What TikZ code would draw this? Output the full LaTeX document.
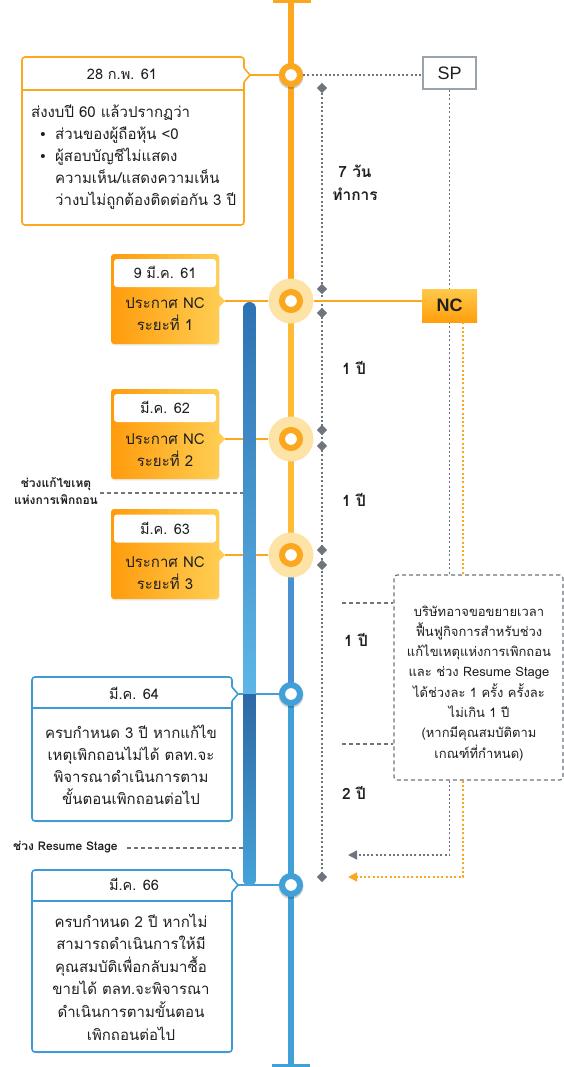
\documentclass[tikz,border=0pt]{standalone}
\usepackage{fontspec}
\setmainfont{Liberation Sans}
\newfontfamily\thaifont[Script=Thai]{Loma}
\usetikzlibrary{arrows.meta,shadows,calc,shapes.geometric}
\definecolor{org}{HTML}{FBA71F}
\definecolor{orgl}{HTML}{FDBB38}
\definecolor{haloc}{HTML}{FEE3A6}
\definecolor{blu}{HTML}{41A0D8}
\definecolor{blud}{HTML}{4890CF}
\definecolor{bcard}{HTML}{3E9BD5}
\definecolor{gry}{HTML}{6E757C}
\definecolor{spc}{HTML}{9AA2AA}
\definecolor{txtc}{HTML}{1F1F1F}
\definecolor{oL}{HTML}{FF9C0C}
\definecolor{oR}{HTML}{FFCD52}
\definecolor{ncT}{HTML}{FFC94C}
\definecolor{ncB}{HTML}{FF9F0C}
\definecolor{bbA}{HTML}{2E72B3}
\definecolor{bbB}{HTML}{5DB6E7}
\definecolor{bbC}{HTML}{2D69A4}
\definecolor{bbD}{HTML}{45A4DA}
\newcommand\notchw[2]{%
  \fill[white] ($(#1)+(-1.5,-7)$) -- ($(#1)+(0,-7)$) -- ($(#1)+(6,0)$) -- ($(#1)+(0,7)$) -- ($(#1)+(-1.5,7)$) -- cycle;
  \draw[#2, line width=1.6pt, line join=round] ($(#1)+(0,-7)$) -- ($(#1)+(6,0)$) -- ($(#1)+(0,7)$);}
\newcommand\notcho[1]{%
  \fill[oR] ($(#1)+(-1,-7)$) -- ($(#1)+(6,0)$) -- ($(#1)+(-1,7)$) -- cycle;}
\newcommand\clines[6]{%
  \foreach \t [count=\i] in {#6} {\pgfmathsetmacro\yy{#4+#5*(\i-1)}\node[#1, anchor=base] (#2\i) at (#3,\yy) {\t};}}
\begin{document}
\begin{tikzpicture}[x=1pt,y=-1pt,
  ring/.style={circle, minimum size=18pt, inner sep=0pt, line width=6pt, fill=white, draw=#1},
  halo/.style={circle, minimum size=45pt, inner sep=0pt, fill=haloc},
  wcard/.style={rectangle, draw=#1, line width=1.6pt, fill=white, rounded corners=3pt, inner sep=0pt},
  ocard/.style={rectangle, rounded corners=3pt, left color=oL, right color=oR, minimum width=108pt, minimum height=90pt, inner sep=0pt, drop shadow={opacity=0.15, shadow xshift=0.5pt, shadow yshift=-1.5pt}},
  hbox/.style={rectangle, fill=white, rounded corners=3pt, minimum width=102pt, minimum height=28pt, inner sep=0pt},
  txt/.style={inner sep=0pt, text=txtc, font=\thaifont\fontsize{15}{17}\selectfont},
  htxt/.style={inner sep=0pt, text=txtc, font=\thaifont\fontsize{14.5}{17}\selectfont},
  ntxt/.style={inner sep=0pt, text=txtc, font=\thaifont\fontsize{13}{15}\selectfont},
  lbl/.style={inner sep=0pt, text=txtc, font=\thaifont\bfseries\fontsize{15.5}{17}\selectfont},
  slbl/.style={inner sep=0pt, text=txtc, font=\thaifont\bfseries\fontsize{12}{14}\selectfont},
  dia/.style={diamond, fill=gry, minimum width=10pt, minimum height=10pt, inner sep=0pt},
  dots/.style={draw=gry, line width=1.6pt, dash pattern=on 2pt off 2.3pt},
  odots/.style={draw=org, line width=1.6pt, dash pattern=on 2pt off 2.3pt},
  dsh/.style={draw=gry, line width=1.2pt, dash pattern=on 4pt off 3pt},
  conn/.style={line width=2pt},
  tl/.style={line width=5.5pt},
  tipa/.style={-{Triangle[length=9pt,width=9pt]}},
]
\useasboundingbox (0,0) rectangle (564,1067);

% ---------- timeline ----------
\coordinate (top) at (291,2);
\coordinate (bot) at (291,1065);
\coordinate (E1) at (291,75);
\coordinate (E2) at (291,301);
\coordinate (E3) at (291,439);
\coordinate (E4) at (291,555);
\coordinate (E5) at (291,694);
\coordinate (E6) at (291,885);
\draw[tl, org] (top) -- (E2);
\draw[tl, orgl] (E2) -- (E4);
\draw[tl, blud] (E4) -- (E5);
\draw[tl, blu] (E5) -- (bot);
\draw[org, line width=3pt] (273,2) -- (311,2);
\draw[blu, line width=3pt] (272,1065) -- (310,1065);

% ---------- event markers ----------
\fill[black, opacity=0.18] ($(E1)+(0,1.5)$) circle (12.5);
\node[ring=org] (e1) at (E1) {};
\node[halo] (h2) at (E2) {};
\node[ring=org] (e2) at (E2) {};
\node[halo] (h3) at (E3) {};
\node[ring=org] (e3) at (E3) {};
\node[halo] (h4) at (E4) {};
\node[ring=org] (e4) at (E4) {};
\fill[black, opacity=0.18] ($(E5)+(0,1.5)$) circle (12.5);
\node[ring=blu] (e5) at (E5) {};
\fill[black, opacity=0.18] ($(E6)+(0,1.5)$) circle (12.5);
\node[ring=blu] (e6) at (E6) {};

% ---------- SP / NC ----------
\node[draw=spc, line width=1.8pt, fill=white, minimum width=53pt, minimum height=32pt, inner sep=0pt, font=\fontsize{18}{18}\selectfont, text=txtc] (sp) at (449.5,73) {SP};
\draw[dots] (e1.east) -- (e1.east -| sp.west);

% note box
\node[draw=gry, line width=1.2pt, dash pattern=on 4pt off 3pt, rounded corners=3pt, fill=white, minimum width=169pt, minimum height=205pt, inner sep=0pt] (note) at (478.5,677.5) {};
\clines{ntxt}{nt}{479}{616}{20.3}{บริษัทอาจขอขยายเวลา,ฟื้นฟูกิจการสำหรับช่วง,แก้ไขเหตุแห่งการเพิกถอน,และ ช่วง Resume Stage,ได้ช่วงละ 1 ครั้ง ครั้งละ,ไม่เกิน 1 ปี,{(หากมีคุณสมบัติตาม},{เกณฑ์ที่กำหนด)}}

\coordinate (a1) at (348,855);
\coordinate (a2) at (348,877);
\coordinate (ox) at (463,0);
\draw[dots] (sp.south) -- (sp.south |- note.north);
\draw[dots, tipa] (sp.south |- note.south) |- (a1);

\node[top color=ncT, bottom color=ncB, minimum width=55pt, minimum height=33pt, inner sep=0pt, font=\bfseries\fontsize{18}{18}\selectfont, text=txtc] (nc) at (449.5,305.5) {NC};
\draw[odots] (nc.south -| ox) -- (note.north -| ox);
\draw[odots, tipa, draw=org, color=org] (note.south -| ox) |- (a2);

% ---------- durations ----------
\node[dia] (d1) at (322,88) {};
\node[dia] (d2) at (322,289) {};
\node[dia] (d3) at (322,313) {};
\node[dia] (d4) at (322,430) {};
\node[dia] (d5) at (322,446) {};
\node[dia] (d6) at (322,550) {};
\node[dia] (d7) at (322,565) {};
\node[dia] (d8) at (322,877) {};
\draw[dots] (d1) -- (d8);
\foreach \n in {1,...,8} {\node[dia] at (d\n) {};}

\node[lbl, anchor=base] (w7a) at (355,178) {7 วัน};
\node[lbl, anchor=base] (w7b) at (355,201) {ทำการ};
\node[lbl, anchor=base west] (y1) at (342,374) {1 ปี};
\node[lbl, anchor=base west] (y2) at (342,506) {1 ปี};
\node[lbl, anchor=base west] (y3) at (344,646) {1 ปี};
\node[lbl, anchor=base west] (y4) at (342,799) {2 ปี};
\coordinate (n1) at (342,603);
\coordinate (n2) at (342,744);
\draw[dsh] (n1) -- (n1 -| note.west);
\draw[dsh] (n2) -- (n2 -| note.west);

% ---------- cards ----------
% card 1
\node[wcard=org, minimum width=222pt, minimum height=168pt] (c1) at (133,141) {};
\draw[org, line width=1.6pt] (22,90) -- (244,90);
\coordinate (p1) at (244,75);
\notchw{p1}{org}
\coordinate (t1) at (250,75);
\node[htxt, anchor=base] (c1h) at (122,80) {28 ก.พ. 61};
\node[txt, anchor=base west] (c1a) at (31,118) {ส่งงบปี 60 แล้วปรากฏว่า};
\node[txt, anchor=base] (c1b1) at (43,140) {{\rmfamily\textbullet}};
\node[txt, anchor=base west] (c1b) at (55,140) {ส่วนของผู้ถือหุ้น <0};
\node[txt, anchor=base] (c1c1) at (43,162) {{\rmfamily\textbullet}};
\node[txt, anchor=base west] (c1c) at (55,162) {ผู้สอบบัญชีไม่แสดง};
\node[txt, anchor=base west] (c1d) at (55,184) {ความเห็น/แสดงความเห็น};
\node[txt, anchor=base west] (c1e) at (55,206) {ว่างบไม่ถูกต้องติดต่อกัน 3 ปี};
\draw[conn, org] (t1) -- (e1.west);

% card 2
\node[ocard] (c2) at (165,299) {};
\coordinate (p2) at (219,301);
\notcho{p2}
\coordinate (t2) at (225,301);
\node[hbox] (c2hb) at (165,273) {};
\node[htxt, anchor=base] (c2h) at (165,278) {9 มี.ค. 61};
\node[txt, anchor=base] (c2a) at (165,308) {ประกาศ NC};
\node[txt, anchor=base] (c2b) at (165,330) {ระยะที่ 1};
\draw[conn, org] (t2) -- (h2.west);
\draw[conn, org] (h2.east) -- (h2.east -| nc.west);

% card 3
\node[ocard] (c3) at (165,434) {};
\coordinate (p3) at (219,439);
\notcho{p3}
\coordinate (t3) at (225,439);
\node[hbox] (c3hb) at (165,408) {};
\node[htxt, anchor=base] (c3h) at (165,413) {มี.ค. 62};
\node[txt, anchor=base] (c3a) at (165,444) {ประกาศ NC};
\node[txt, anchor=base] (c3b) at (165,466) {ระยะที่ 2};
\draw[conn, org] (t3) -- (h3.west);

% card 4
\node[ocard] (c4) at (165,554) {};
\coordinate (p4) at (219,555);
\notcho{p4}
\coordinate (t4) at (225,555);
\node[hbox] (c4hb) at (165,528.5) {};
\node[htxt, anchor=base] (c4h) at (165,534) {มี.ค. 63};
\node[txt, anchor=base] (c4a) at (165,567) {ประกาศ NC};
\node[txt, anchor=base] (c4b) at (165,589) {ระยะที่ 3};
\draw[conn, org] (t4) -- (h4.west);

% card 5
\node[wcard=bcard, minimum width=200pt, minimum height=144pt, drop shadow={opacity=0.12, shadow xshift=0.5pt, shadow yshift=-1.5pt}] (c5) at (132,749) {};
\draw[bcard, line width=1.6pt] (32,708) -- (232,708);
\coordinate (p5) at (232,694);
\notchw{p5}{bcard}
\coordinate (t5) at (238,694);
\node[htxt, anchor=base] (c5h) at (134,699) {มี.ค. 64};
\clines{txt}{c5l}{131}{738}{22.3}{ครบกำหนด 3 ปี หากแก้ไข,เหตุเพิกถอนไม่ได้ ตลท.จะ,พิจารณาดำเนินการตาม,ขั้นตอนเพิกถอนต่อไป}
\draw[conn, blu] (t5) -- (e5.west);

% card 6
\node[wcard=bcard, minimum width=200pt, minimum height=182pt, drop shadow={opacity=0.12, shadow xshift=0.5pt, shadow yshift=-1.5pt}] (c6) at (132,961) {};
\draw[bcard, line width=1.6pt] (32,901) -- (232,901);
\coordinate (p6) at (232,885);
\notchw{p6}{bcard}
\coordinate (t6) at (238,885);
\node[htxt, anchor=base] (c6h) at (134,890) {มี.ค. 66};
\clines{txt}{c6l}{131}{927}{22.6}{ครบกำหนด 2 ปี หากไม่,สามารถดำเนินการให้มี,คุณสมบัติเพื่อกลับมาซื้อ,ขายได้ ตลท.จะพิจารณา,ดำเนินการตามขั้นตอน,เพิกถอนต่อไป}
\draw[conn, blu] (t6) -- (e6.west);

% ---------- cure-period bar ----------
\begin{scope}
  \clip[rounded corners=6.5pt] (243,302) rectangle (256,886);
  \shade[top color=bbA, bottom color=bbB] (243,302) rectangle (256,694);
  \shade[top color=bbC, bottom color=bbD] (243,694) rectangle (256,886);
\end{scope}

% side labels
\node[slbl, anchor=base] (s1a) at (56,487) {ช่วงแก้ไขเหตุ};
\node[slbl, anchor=base] (s1b) at (56,504) {แห่งการเพิกถอน};
\coordinate (s1) at (100,493);
\draw[dsh] (s1) -- (243,493);
\node[slbl, anchor=base west] (s2) at (13,850) {ช่วง Resume Stage};
\coordinate (s2e) at (127,848);
\draw[dsh] (s2e) -- (243,848);
\end{tikzpicture}
\end{document}
